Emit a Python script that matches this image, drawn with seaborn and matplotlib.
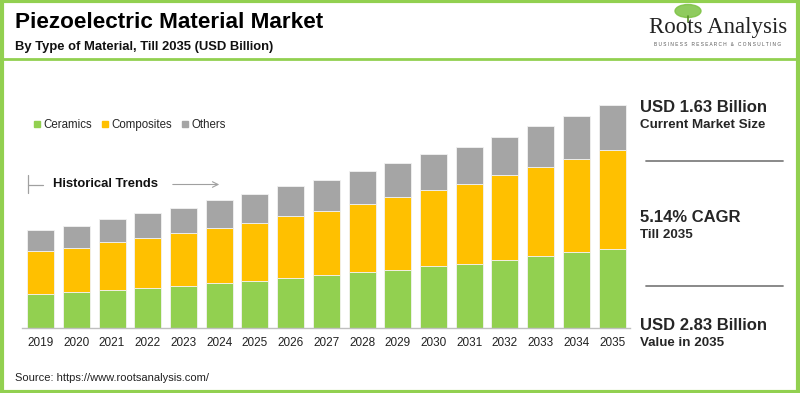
import numpy as np
import matplotlib
matplotlib.use("Agg")
import matplotlib.pyplot as plt
from matplotlib.lines import Line2D
from matplotlib.patches import Ellipse, Rectangle
import seaborn as sns

# data (USD Billion)
years = [str(y) for y in range(2019, 2036)]
ceramics = [0.44, 0.46, 0.49, 0.51, 0.54, 0.57, 0.60, 0.64, 0.67, 0.71, 0.74, 0.79, 0.82, 0.87, 0.92, 0.97, 1.01]
composites = [0.54, 0.56, 0.60, 0.63, 0.67, 0.70, 0.74, 0.78, 0.82, 0.87, 0.92, 0.96, 1.01, 1.07, 1.12, 1.18, 1.25]
others = [0.27, 0.28, 0.30, 0.32, 0.32, 0.36, 0.36, 0.38, 0.39, 0.41, 0.43, 0.46, 0.47, 0.49, 0.52, 0.54, 0.57]
series = ["Ceramics", "Composites", "Others"]
colors = ["#92D050", "#FFC000", "#A5A5A5"]

sns.set_style("white")
plt.rcParams['font.family'] = ['Liberation Sans', 'DejaVu Sans']

W, H = 800, 393
fig = plt.figure(figsize=(8, 3.93), dpi=100)

def fx(x):
    return x / W

def fy(y):
    return 1 - y / H

ax = fig.add_axes([fx(22), fy(328.3), fx(630) - fx(22), fy(91.6) - fy(328.3)])

c = np.array(ceramics)
cp = np.array(composites)
o = np.array(others)
bottoms = [np.zeros_like(c), c, c + cp]
for vals, bot, col in zip([c, cp, o], bottoms, colors):
    sns.barplot(x=years, y=vals, bottom=bot, color=col, width=0.755,
                edgecolor="#f2f2f2", linewidth=0.6, saturation=1, ax=ax)

ax.set_xlim(-0.52, 16.5)
ax.set_ylim(0, 3.0)
ax.set_yticks([])
ax.set_xlabel("")
ax.set_ylabel("")
for s in ["top", "left", "right"]:
    ax.spines[s].set_visible(False)
ax.spines["bottom"].set_color("#bfbfbf")
ax.spines["bottom"].set_linewidth(1)
ax.tick_params(axis="x", length=0, pad=6, labelsize=8.5, labelcolor="#222222")

# legend
handles = [Line2D([], [], marker="s", linestyle="", color=col, markersize=5) for col in colors]
fig.legend(handles, series, loc="center left", bbox_to_anchor=(fx(27), fy(125)),
           ncol=3, frameon=False, fontsize=8.3, handletextpad=0.05, columnspacing=0.6,
           handlelength=1.0, borderaxespad=0)

# historical trends annotation
fig.add_artist(Line2D([fx(28.3), fx(28.3)], [fy(175), fy(193)], color="#a0a0a0", lw=0.9))
fig.add_artist(Line2D([fx(28.3), fx(43)], [fy(185), fy(185)], color="#a0a0a0", lw=0.9))
fig.text(fx(53), fy(184), "Historical Trends", fontsize=9.4, fontweight="bold",
         va="center", ha="left", color="#111111")
ax.annotate("", xy=(fx(222), fy(184.5)), xytext=(fx(170), fy(184.5)),
            xycoords="figure fraction", textcoords="figure fraction",
            arrowprops=dict(arrowstyle="->", color="#a0a0a0", lw=0.8))

# header
fig.text(fx(15), fy(23), "Piezoelectric Material Market", fontsize=16.2, fontweight="bold",
         va="center", ha="left", color="#000000")
fig.text(fx(15), fy(47), "By Type of Material, Till 2035 (USD Billion)", fontsize=9.4,
         fontweight="bold", va="center", ha="left", color="#111111")
fig.add_artist(Line2D([0, 1], [fy(59), fy(59)], color="#92D050", lw=2))

# logo
fig.add_artist(Ellipse((fx(688), fy(11)), fx(26), 13 / H, color="#7cc242", alpha=0.85))
fig.add_artist(Line2D([fx(688), fx(688)], [fy(16), fy(22)], color="#5a8f2a", lw=1.2))
fig.text(fx(718), fy(27), "Roots Analysis", fontsize=16.5, family="Liberation Serif",
         va="center", ha="center", color="#222222")
fig.text(fx(718), fy(45), "B U S I N E S S   R E S E A R C H   &   C O N S U L T I N G",
         fontsize=3.4, va="center", ha="center", color="#555555")

# right panel
rx = fx(640)
fig.text(rx, fy(107), "USD 1.63 Billion", fontsize=12, fontweight="bold", va="center")
fig.text(rx, fy(125.5), "Current Market Size", fontsize=9.6, fontweight="bold", va="center")
fig.add_artist(Line2D([fx(646), fx(783)], [fy(160.5), fy(160.5)], color="#808080", lw=1.3))
fig.text(rx, fy(217), "5.14% CAGR", fontsize=12, fontweight="bold", va="center")
fig.text(rx, fy(235), "Till 2035", fontsize=9.6, fontweight="bold", va="center")
fig.add_artist(Line2D([fx(646), fx(783)], [fy(286), fy(286)], color="#808080", lw=1.3))
fig.text(rx, fy(325.5), "USD 2.83 Billion", fontsize=12, fontweight="bold", va="center")
fig.text(rx, fy(342.5), "Value in 2035", fontsize=9.6, fontweight="bold", va="center")

# source
fig.text(fx(15), fy(378), "Source: https://www.rootsanalysis.com/", fontsize=8,
         va="center", ha="left", color="#222222")

# border
fig.add_artist(Rectangle((0.002, 0.003), 0.996, 0.994, fill=False,
                         edgecolor="#92D050", lw=3, transform=fig.transFigure))

fig.savefig("out.png", dpi=100, facecolor="white")
